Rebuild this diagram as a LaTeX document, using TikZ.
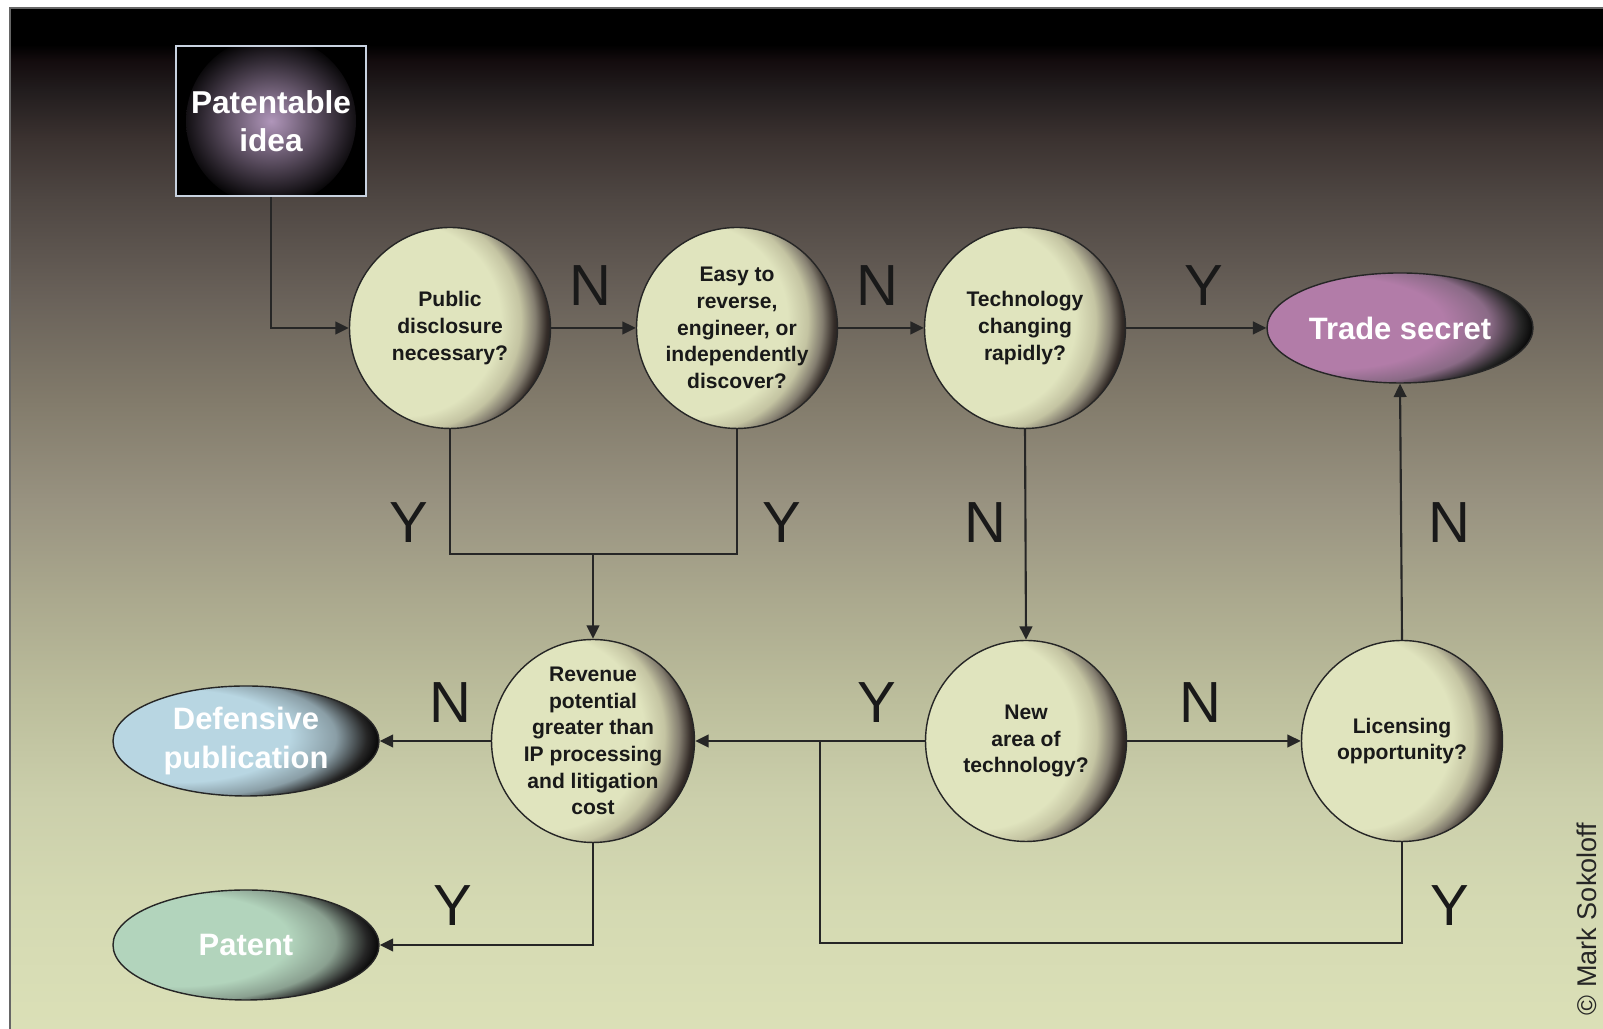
\documentclass[tikz,border=0pt]{standalone}
\usepackage{fontspec}
\setmainfont{Liberation Sans}
\usetikzlibrary{arrows.meta,shapes.geometric}

\definecolor{bgA}{RGB}{219,224,183}
\definecolor{bgB}{RGB}{212,217,178}
\definecolor{bgC}{RGB}{203,207,171}
\definecolor{bgD}{RGB}{188,190,156}
\definecolor{bgE}{RGB}{171,169,142}
\definecolor{bgF}{RGB}{152,146,128}
\definecolor{bgG}{RGB}{130,123,107}
\definecolor{bgH}{RGB}{106,98,90}
\definecolor{bgI}{RGB}{79,71,67}
\definecolor{bgJ}{RGB}{59,50,48}
\definecolor{bgK}{RGB}{33,28,29}
\definecolor{bgL}{RGB}{20,12,14}
\definecolor{ballcol}{RGB}{224,228,190}
\definecolor{ballmid}{RGB}{196,196,162}
\definecolor{ballgrey}{RGB}{132,126,112}
\definecolor{ballrim}{RGB}{52,44,40}
\definecolor{secretcol}{RGB}{178,124,168}
\definecolor{secretmid}{RGB}{138,106,134}
\definecolor{defensecol}{RGB}{184,214,226}
\definecolor{defensemid}{RGB}{138,158,166}
\definecolor{patentcol}{RGB}{178,212,188}
\definecolor{patentmid}{RGB}{138,160,144}
\definecolor{glow}{RGB}{176,150,186}
\definecolor{boxrim}{RGB}{200,210,224}

\pgfdeclareverticalshading{panelshade}{100bp}{color(0bp)=(bgA); color(25bp)=(bgA); color(31.3bp)=(bgB); color(36.2bp)=(bgC); color(41.1bp)=(bgD); color(46bp)=(bgE); color(50.9bp)=(bgF); color(55.8bp)=(bgG); color(60.7bp)=(bgH); color(65.6bp)=(bgI); color(68.6bp)=(bgJ); color(71bp)=(bgK); color(72.4bp)=(bgL); color(73.2bp)=(black); color(100bp)=(black)}
\pgfdeclareradialshading{ballshade}{\pgfpoint{-22bp}{4bp}}{color(0bp)=(ballcol); color(24bp)=(ballcol); color(27.5bp)=(ballmid); color(30bp)=(ballgrey); color(32bp)=(ballrim); color(33.5bp)=(black!90); color(50bp)=(black)}
\def\declareegg#1#2#3{\pgfdeclareradialshading{#1}{\pgfpoint{-22bp}{4bp}}{color(0bp)=(#2); color(21bp)=(#2); color(27bp)=(#3); color(31bp)=(black!85); color(33bp)=(black); color(50bp)=(black)}}
\declareegg{secretshade}{secretcol}{secretmid}
\declareegg{defenseshade}{defensecol}{defensemid}
\declareegg{patentshade}{patentcol}{patentmid}

\tikzset{
	ideabox/.style={rectangle, fill=black, draw=boxrim, line width=0.8pt, minimum width=1.90cm, minimum height=1.50cm, align=center, text=white, font=\bfseries\fontsize{9}{10.7}\selectfont, path picture={\shade[inner color=glow, outer color=black] (path picture bounding box.center) circle (0.85cm);}},
	question/.style={circle, draw=black!85, line width=0.4pt, shading=ballshade, minimum size=2.01cm, inner sep=0pt, align=center, text=black!90, font=\bfseries\fontsize{6}{7.6}\selectfont},
	outcome/.style={ellipse, draw=black!85, line width=0.4pt, minimum width=2.66cm, minimum height=1.10cm, inner sep=0pt, align=center, text=white, font=\bfseries\fontsize{8.8}{11}\selectfont},
	flow/.style={draw=black!85, line width=0.6pt, -{Triangle[length=3.8pt,width=3.6pt]}},
	link/.style={draw=black!85, line width=0.6pt},
	answer/.style={font=\fontsize{16.5}{18}\selectfont, text=black!90, inner sep=0pt}
}

\begin{document}
\begin{tikzpicture}
	\useasboundingbox (0,0) rectangle (16.03,10.29);
	\shade[shading=panelshade] (0.10,0) rectangle (16.03,10.21);
	\draw[black!60, line width=0.5pt] (0.10,0) -- (0.10,10.21) -- (16.03,10.21);

	\node[ideabox] (idea) at (2.71,9.08) {Patentable\\idea};

	\node[question] (disclose) at (4.50,7.01) {Public\\disclosure\\necessary?};
	\node[question] (reverse) at (7.37,7.01) {Easy to\\reverse,\\engineer, or\\independently\\discover?};
	\node[question] (changing) at (10.25,7.01) {Technology\\changing\\rapidly?};
	\node[outcome, shading=secretshade] (secret) at (14.00,7.01) {Trade secret};

	\node[question] (revenue) at (5.93,2.88) {Revenue\\potential\\greater than\\IP processing\\and litigation\\cost};
	\node[question] (newarea) at (10.26,2.88) {New\\area of\\technology?};
	\node[question] (licensing) at (14.02,2.88) {Licensing\\opportunity?};

	\node[outcome, shading=defenseshade] (defense) at (2.46,2.88) {Defensive\\publication};
	\node[outcome, shading=patentshade] (patent) at (2.46,0.84) {Patent};

	\coordinate (yjoin) at (5.93,4.75);
	\coordinate (loopcorner) at (8.20,0.86);
	\coordinate (loopjoin) at (8.20,2.88);

	\draw[flow] (idea.south) |- (disclose.west);
	\draw[flow] (disclose.east) -- (reverse.west);
	\draw[flow] (reverse.east) -- (changing.west);
	\draw[flow] (changing.east) -- (secret.west);
	\draw[link] (disclose.south) |- (yjoin) -| (reverse.south);
	\draw[flow] (yjoin) -- (revenue.north);
	\draw[flow] (changing.south) -- (newarea.north);
	\draw[flow] (newarea.west) -- (revenue.east);
	\draw[flow] (newarea.east) -- (licensing.west);
	\draw[flow] (licensing.north) -- (secret.south);
	\draw[link] (licensing.south) |- (loopcorner) -- (loopjoin);
	\draw[flow] (revenue.west) -- (defense.east);
	\draw[flow] (revenue.south) |- (patent.east);

	\node[answer] (a1) at (5.90,7.43) {N};
	\node[answer] (a2) at (8.77,7.43) {N};
	\node[answer] (a3) at (12.04,7.43) {Y};
	\node[answer] (a4) at (4.09,5.06) {Y};
	\node[answer] (a5) at (7.82,5.06) {Y};
	\node[answer] (a6) at (9.85,5.06) {N};
	\node[answer] (a7) at (14.49,5.06) {N};
	\node[answer] (a8) at (4.50,3.26) {N};
	\node[answer] (a9) at (8.77,3.26) {Y};
	\node[answer] (a10) at (12.00,3.26) {N};
	\node[answer] (a11) at (4.53,1.23) {Y};
	\node[answer] (a12) at (14.50,1.23) {Y};

	\node[rotate=90, font=\fontsize{7.7}{9}\selectfont, text=black!85] (credit) at (15.87,1.10) {© Mark Sokoloff};
\end{tikzpicture}
\end{document}
